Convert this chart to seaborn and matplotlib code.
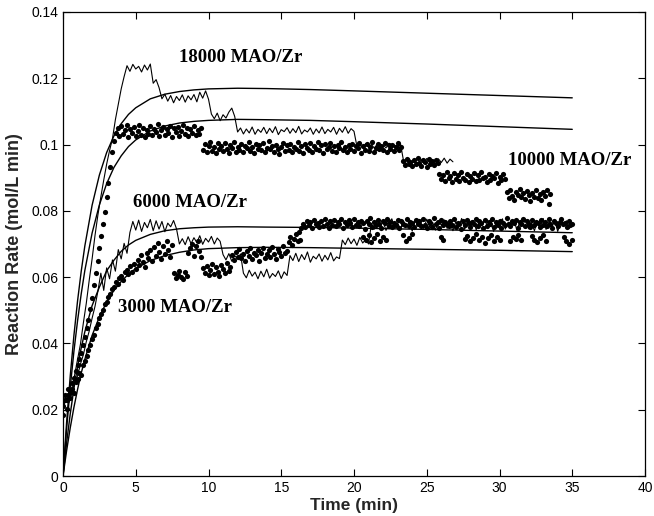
import numpy as np
import pandas as pd
import matplotlib
matplotlib.use("Agg")
import matplotlib.pyplot as plt
import seaborn as sns
from matplotlib.ticker import FuncFormatter, MultipleLocator

# ---------------- data (mol/L min vs min) ----------------
# model curves
t_model = [0, 0.25, 0.5, 0.75, 1, 1.25, 1.5, 2, 2.5, 3, 3.5, 4, 4.5, 5, 6, 7, 8, 9, 10,
           12, 14, 17, 20, 25, 30, 35]
model_18000 = [0, 0.0163, 0.0303, 0.0424, 0.0528, 0.0617, 0.0694, 0.0817, 0.0908, 0.0976,
               0.1026, 0.1063, 0.1091, 0.1111, 0.1138, 0.1152, 0.1160, 0.1165, 0.1168,
               0.1170, 0.1169, 0.1166, 0.1162, 0.1155, 0.1148, 0.1141]
model_10000 = [0, 0.0143, 0.0268, 0.0376, 0.0468, 0.0549, 0.0620, 0.0733, 0.0818, 0.0882,
               0.0931, 0.0966, 0.0994, 0.1014, 0.1041, 0.1056, 0.1065, 0.1070, 0.1073,
               0.1076, 0.1075, 0.1073, 0.1069, 0.1062, 0.1054, 0.1046]
model_6000 = [0, 0.0101, 0.0188, 0.0264, 0.0330, 0.0386, 0.0435, 0.0514, 0.0570, 0.0619,
              0.0651, 0.0678, 0.0697, 0.0711, 0.0729, 0.0740, 0.0746, 0.0749, 0.0751,
              0.0752, 0.0751, 0.0750, 0.0748, 0.0744, 0.0739, 0.0734]
model_3000 = [0, 0.0077, 0.0146, 0.0207, 0.0261, 0.0310, 0.0352, 0.0424, 0.0480, 0.0525,
              0.0560, 0.0587, 0.0609, 0.0626, 0.0650, 0.0665, 0.0675, 0.0682, 0.0686,
              0.0689, 0.0690, 0.0689, 0.0687, 0.0684, 0.0681, 0.0677]

# experimental data, 18000 MAO/Zr (line, sampled every 0.2 min from t = 0)
step_18000 = 0.2
rate_18000 = [
    0.0205, 0.0245, 0.0228, 0.0262, 0.0305, 0.0352, 0.0398, 0.0462, 0.0521, 0.0590,
    0.0655, 0.0726, 0.0788, 0.0842, 0.0893, 0.0941, 0.0982, 0.1018, 0.1075, 0.1122,
    0.1168, 0.1205,
    0.1238, 0.1221, 0.1242, 0.1228, 0.1236, 0.1219, 0.1240, 0.1225, 0.1243,
    0.1185, 0.1196, 0.1172, 0.1138,
    0.1152, 0.1131, 0.1148, 0.1126, 0.1145, 0.1133, 0.1150, 0.1128, 0.1147, 0.1135,
    0.1151, 0.1129, 0.1158, 0.1140, 0.1162, 0.1137,
    0.1092,
    0.1078, 0.1095, 0.1072, 0.1090, 0.1080, 0.1098, 0.1110, 0.1085,
    0.1038, 0.1050, 0.1032, 0.1047, 0.1035, 0.1053, 0.1031, 0.1046, 0.1037, 0.1052,
    0.1033, 0.1049, 0.1036, 0.1054, 0.1030, 0.1045, 0.1039, 0.1051, 0.1034, 0.1048,
    0.1036, 0.1055, 0.1032, 0.1044, 0.1038, 0.1050, 0.1031, 0.1047, 0.1035, 0.1053,
    0.1033, 0.1046, 0.1038, 0.1052, 0.1031, 0.1049, 0.1037, 0.1054, 0.1034, 0.1048,
    0.1040,
    0.0995,
    0.0998, 0.0991, 0.1003, 0.0994, 0.1000, 0.0989, 0.1002, 0.0993, 0.0999, 0.0990,
    0.1004, 0.0995, 0.0998, 0.0992, 0.1001,
    0.0952, 0.0941, 0.0957, 0.0944, 0.0950, 0.0939, 0.0955, 0.0943, 0.0958, 0.0945,
    0.0953, 0.0940, 0.0957, 0.0946, 0.0959, 0.0944, 0.0956, 0.0948]

# experimental data, 6000 MAO/Zr (line, every 0.2 min from t = 0)
step_6000 = 0.2
rate_6000 = [
    0.0198, 0.0236, 0.0221, 0.0255, 0.0281, 0.0302, 0.0338, 0.0366, 0.0405, 0.0437,
    0.0476, 0.0512, 0.0558, 0.0612, 0.0560, 0.0628, 0.0595, 0.0652, 0.0618, 0.0683,
    0.0655, 0.0702, 0.0672, 0.0735,
    0.0768, 0.0742, 0.0772, 0.0738, 0.0765, 0.0749, 0.0774, 0.0740, 0.0770, 0.0745,
    0.0768, 0.0737, 0.0763, 0.0752, 0.0771, 0.0746,
    0.0700,
    0.0716, 0.0698, 0.0722, 0.0701, 0.0719, 0.0704, 0.0725, 0.0699, 0.0717, 0.0706,
    0.0723, 0.0700, 0.0718, 0.0708,
    0.0668, 0.0652, 0.0671, 0.0648, 0.0665, 0.0655, 0.0670,
    0.0612, 0.0598, 0.0621, 0.0603, 0.0615, 0.0595, 0.0618, 0.0601, 0.0624, 0.0597,
    0.0611, 0.0602, 0.0619, 0.0596, 0.0616, 0.0605,
    0.0665, 0.0650, 0.0672, 0.0647, 0.0668, 0.0653, 0.0676, 0.0645, 0.0663, 0.0655,
    0.0670, 0.0648, 0.0666, 0.0652, 0.0674, 0.0649, 0.0661, 0.0656,
    0.0712, 0.0698, 0.0718, 0.0701, 0.0715, 0.0696, 0.0720, 0.0703, 0.0714, 0.0700,
    0.0762, 0.0745, 0.0771, 0.0750, 0.0768, 0.0741, 0.0765, 0.0776, 0.0748, 0.0763,
    0.0744, 0.0770, 0.0752, 0.0767, 0.0739, 0.0772, 0.0755, 0.0764, 0.0746, 0.0775,
    0.0751, 0.0766, 0.0742, 0.0769, 0.0757, 0.0773, 0.0747, 0.0762, 0.0740, 0.0768,
    0.0753, 0.0777, 0.0744, 0.0765, 0.0750, 0.0771, 0.0743, 0.0767, 0.0756, 0.0774,
    0.0748, 0.0763, 0.0738, 0.0770, 0.0754, 0.0776, 0.0745, 0.0766, 0.0751, 0.0772,
    0.0741, 0.0768, 0.0757, 0.0775, 0.0746, 0.0764, 0.0740, 0.0769, 0.0752, 0.0777,
    0.0744, 0.0767, 0.0749, 0.0773, 0.0738, 0.0765, 0.0755, 0.0770, 0.0747, 0.0762]

# experimental data, 10000 MAO/Zr (points, every 0.125 min from t = 0)
step_10000 = 0.125
rate_10000 = [
    0.0212, 0.0245, 0.0228, 0.0262, 0.0250, 0.0281, 0.0296, 0.0318, 0.0334, 0.0352,
    0.0371, 0.0395, 0.0418, 0.0446, 0.0472, 0.0503, 0.0538, 0.0575, 0.0612, 0.0650,
    0.0688, 0.0725, 0.0760, 0.0798, 0.0842, 0.0885, 0.0931, 0.0978,
    0.1012, 0.1036, 0.1049, 0.1025, 0.1055, 0.1031, 0.1044, 0.1058, 0.1022, 0.1047,
    0.1035, 0.1053, 0.1027, 0.1041, 0.1059, 0.1030, 0.1050, 0.1024, 0.1045, 0.1033,
    0.1056, 0.1028, 0.1048, 0.1038, 0.1061, 0.1026, 0.1043, 0.1052, 0.1029, 0.1046,
    0.1034, 0.1057, 0.1023, 0.1049, 0.1037, 0.1054, 0.1027, 0.1042, 0.1060, 0.1031,
    0.1051, 0.1025, 0.1046, 0.1036, 0.1055, 0.1029, 0.1044, 0.1032, 0.1050,
    0.0984, 0.1001, 0.0978, 0.0995, 0.1008, 0.0982, 0.0993, 0.0976, 0.1004, 0.0988,
    0.0997, 0.0980, 0.1006, 0.0986, 0.0974, 0.0999, 0.0990, 0.1009, 0.0979, 0.0994,
    0.0985, 0.1003, 0.0977, 0.0996, 0.0989, 0.1007, 0.0981, 0.0992, 0.0975, 0.1002,
    0.0987, 0.0998, 0.0983, 0.1005, 0.0979, 0.0991, 0.1010, 0.0986, 0.0996, 0.0977,
    0.1000, 0.0988, 0.0973, 0.0994, 0.1006, 0.0982, 0.0999, 0.0985, 0.1003, 0.0978,
    0.0993, 0.0987, 0.1008, 0.0980, 0.0997, 0.0976, 0.1001, 0.0990, 0.0984, 0.1005,
    0.0979, 0.0995, 0.0988, 0.1009, 0.0983, 0.0998, 0.0974, 0.1002, 0.0986, 0.0992,
    0.1004, 0.0981, 0.0996, 0.0978, 0.1000, 0.0989, 0.1007, 0.0984, 0.0993, 0.0977,
    0.0999, 0.0987, 0.1003, 0.0980, 0.0995, 0.0991, 0.1006, 0.0975, 0.0997, 0.0985,
    0.1002, 0.0982, 0.0994, 0.1008, 0.0979, 0.0990, 0.1001, 0.0986, 0.0996, 0.0983,
    0.1004, 0.0977, 0.0998, 0.0988, 0.1000, 0.0981, 0.0993, 0.1005, 0.0984, 0.0992,
    0.0951, 0.0938, 0.0956, 0.0942, 0.0948, 0.0934, 0.0953, 0.0940, 0.0958, 0.0944,
    0.0936, 0.0952, 0.0946, 0.0933, 0.0955, 0.0941, 0.0949, 0.0937, 0.0954, 0.0943,
    0.0912, 0.0895, 0.0907, 0.0889, 0.0916, 0.0899, 0.0904, 0.0887, 0.0913, 0.0896,
    0.0909, 0.0891, 0.0918, 0.0900, 0.0893, 0.0910, 0.0886, 0.0905, 0.0897, 0.0914,
    0.0890, 0.0908, 0.0894, 0.0917, 0.0898, 0.0903, 0.0888, 0.0911, 0.0892, 0.0906,
    0.0899, 0.0915, 0.0885, 0.0902, 0.0894, 0.0910, 0.0896,
    0.0856, 0.0838, 0.0862, 0.0845, 0.0832, 0.0858, 0.0849, 0.0865, 0.0841, 0.0853,
    0.0836, 0.0860, 0.0847, 0.0829, 0.0855, 0.0843, 0.0863, 0.0839, 0.0851, 0.0834,
    0.0857, 0.0846, 0.0864, 0.0820, 0.0852]

# experimental data, 3000 MAO/Zr (points, every 0.125 min from t = 0)
step_3000 = 0.125
rate_3000 = [
    0.0185, 0.0228, 0.0201, 0.0243, 0.0236, 0.0262, 0.0251, 0.0284, 0.0293, 0.0312,
    0.0305, 0.0336, 0.0348, 0.0362, 0.0381, 0.0394, 0.0412, 0.0425, 0.0447, 0.0458,
    0.0476, 0.0489, 0.0502, 0.0518, 0.0526, 0.0541, 0.0549, 0.0563, 0.0571, 0.0584,
    0.0578, 0.0596,
    0.0604, 0.0591, 0.0617, 0.0622, 0.0609, 0.0634, 0.0615, 0.0641, 0.0626, 0.0652,
    0.0637, 0.0668, 0.0645, 0.0631, 0.0672, 0.0658, 0.0683, 0.0649, 0.0691, 0.0664,
    0.0702, 0.0676, 0.0655, 0.0694, 0.0669, 0.0708, 0.0681, 0.0660, 0.0697,
    0.0612, 0.0598, 0.0607, 0.0619, 0.0601, 0.0594, 0.0615, 0.0603,
    0.0672, 0.0688, 0.0701, 0.0665, 0.0693, 0.0709, 0.0679, 0.0661,
    0.0628, 0.0612, 0.0635, 0.0606, 0.0621, 0.0640, 0.0609, 0.0631, 0.0617, 0.0603,
    0.0637, 0.0624, 0.0611, 0.0642, 0.0619, 0.0630,
    0.0668, 0.0652, 0.0676, 0.0661, 0.0684, 0.0657, 0.0670, 0.0648, 0.0679, 0.0664,
    0.0687, 0.0655, 0.0673, 0.0666, 0.0681, 0.0650, 0.0674, 0.0689, 0.0659, 0.0671,
    0.0683, 0.0662, 0.0692, 0.0669, 0.0654, 0.0686, 0.0677, 0.0663, 0.0694, 0.0672,
    0.0680,
    0.0706, 0.0721, 0.0698, 0.0714, 0.0729, 0.0709, 0.0735, 0.0748,
    0.0761, 0.0752, 0.0770, 0.0757, 0.0766, 0.0748, 0.0773, 0.0759, 0.0764, 0.0750,
    0.0768, 0.0755, 0.0775, 0.0761, 0.0747, 0.0769, 0.0758, 0.0772, 0.0753, 0.0765,
    0.0760, 0.0776, 0.0749, 0.0767, 0.0756, 0.0771, 0.0762, 0.0751, 0.0774, 0.0758,
    0.0766, 0.0754, 0.0770, 0.0763, 0.0746, 0.0768, 0.0759, 0.0777, 0.0752, 0.0765,
    0.0757, 0.0772, 0.0760, 0.0749, 0.0769, 0.0762, 0.0775, 0.0755, 0.0767, 0.0751,
    0.0764, 0.0758, 0.0773, 0.0747, 0.0770, 0.0761, 0.0756, 0.0776, 0.0753, 0.0766,
    0.0762, 0.0750, 0.0771, 0.0759, 0.0768, 0.0754, 0.0774, 0.0757, 0.0748, 0.0769,
    0.0763, 0.0752, 0.0777, 0.0760, 0.0765, 0.0749, 0.0772, 0.0756, 0.0767, 0.0761,
    0.0754, 0.0770, 0.0758, 0.0775, 0.0751, 0.0764, 0.0760, 0.0746, 0.0768, 0.0757,
    0.0773, 0.0762, 0.0750, 0.0766, 0.0759, 0.0776, 0.0753, 0.0769, 0.0763, 0.0748,
    0.0771, 0.0755, 0.0765, 0.0761, 0.0774, 0.0752, 0.0767, 0.0758, 0.0770, 0.0749,
    0.0764, 0.0756, 0.0777, 0.0760, 0.0753, 0.0768, 0.0762, 0.0772, 0.0747, 0.0766,
    0.0759, 0.0775, 0.0754, 0.0769, 0.0761, 0.0751, 0.0773, 0.0757, 0.0765, 0.0763,
    0.0750, 0.0771, 0.0758, 0.0767, 0.0755, 0.0776, 0.0760, 0.0748, 0.0770, 0.0762,
    0.0753, 0.0766, 0.0774, 0.0759, 0.0764, 0.0752, 0.0769, 0.0756, 0.0761]

# extra scattered 3000 MAO/Zr points below the main band
t_3000_low = [16.3, 20.6, 20.8, 21.0, 21.2, 21.4, 21.6, 21.8, 22.0, 22.2, 23.4, 23.6, 23.8,
              24.0, 26.0, 26.1, 27.6, 27.8, 28.0, 28.2, 28.4, 28.6, 28.8, 29.0, 29.2,
              29.4, 29.6, 29.8, 30.0, 30.7, 30.9, 31.1, 31.3, 31.5, 32.2, 32.4, 32.6,
              32.8, 33.0, 33.2, 34.4, 34.6, 34.8, 35.0]
rate_3000_low = [0.0712, 0.0722, 0.0712, 0.0728, 0.0705, 0.0718, 0.0731, 0.0709, 0.0720,
                 0.0713, 0.0726, 0.0710, 0.0719, 0.0729, 0.0721, 0.0712, 0.0716, 0.0725,
                 0.0708, 0.0719, 0.0730, 0.0712, 0.0722, 0.0704, 0.0717, 0.0728, 0.0710,
                 0.0720, 0.0713, 0.0709, 0.0721, 0.0714, 0.0726, 0.0711, 0.0724, 0.0713,
                 0.0705, 0.0719, 0.0728, 0.0710, 0.0722, 0.0708, 0.0701, 0.0712]

labels = ["18000 MAO/Zr", "10000 MAO/Zr", "6000 MAO/Zr", "3000 MAO/Zr"]
label_pos = [(8.0, 0.1263), (30.6, 0.0952), (4.8, 0.0824), (3.8, 0.0507)]

x_ticks = [0, 5, 10, 15, 20, 25, 30, 35, 40]
y_ticks = [0, 0.02, 0.04, 0.06, 0.08, 0.1, 0.12, 0.14]

# ---------------- plot ----------------
sns.set_style("ticks")
plt.rcParams['font.family'] = ['Liberation Sans', 'DejaVu Sans']

W, H = 654, 516
fig = plt.figure(figsize=(W / 100, H / 100), dpi=100)
ax = fig.add_axes([63 / W, 1 - 476 / H, (645 - 63) / W, (476 - 12) / H])

for m in (model_18000, model_10000, model_6000, model_3000):
    sns.lineplot(x=t_model, y=m, ax=ax, color="black", lw=1.0,
                 estimator=None, sort=False)

for step, rate in ((step_18000, rate_18000), (step_6000, rate_6000)):
    t = step * np.arange(len(rate))
    sns.lineplot(x=t, y=rate, ax=ax, color="black", lw=0.8,
                 estimator=None, sort=False)

for step, rate in ((step_10000, rate_10000), (step_3000, rate_3000)):
    t = step * np.arange(len(rate))
    sns.scatterplot(x=t, y=rate, ax=ax, color="black", s=14, linewidth=0,
                    marker="o")
sns.scatterplot(x=t_3000_low, y=rate_3000_low, ax=ax, color="black", s=14,
                linewidth=0, marker="o")

for txt, (tx, ty) in zip(labels, label_pos):
    ax.text(tx, ty, txt, ha="left", va="center", fontsize=13.5, fontweight="bold",
            color="black", family=["Liberation Serif", "DejaVu Serif"])

ax.set_xlim(0, 40)
ax.set_ylim(0, 0.14)
ax.set_xticks(x_ticks)
ax.set_yticks(y_ticks)
ax.yaxis.set_major_formatter(FuncFormatter(lambda v, p: f"{v:g}"))
ax.tick_params(direction="in", top=True, right=True, length=5, width=0.8,
               labelsize=10, colors="black")
for s in ax.spines.values():
    s.set_linewidth(0.9)
    s.set_color("black")
ax.set_xlabel("Time (min)", fontsize=12.5, fontweight="bold", labelpad=2)
ax.set_ylabel("Reaction Rate (mol/L min)", fontsize=13, fontweight="bold", labelpad=6)

fig.savefig("out.png", dpi=100)
